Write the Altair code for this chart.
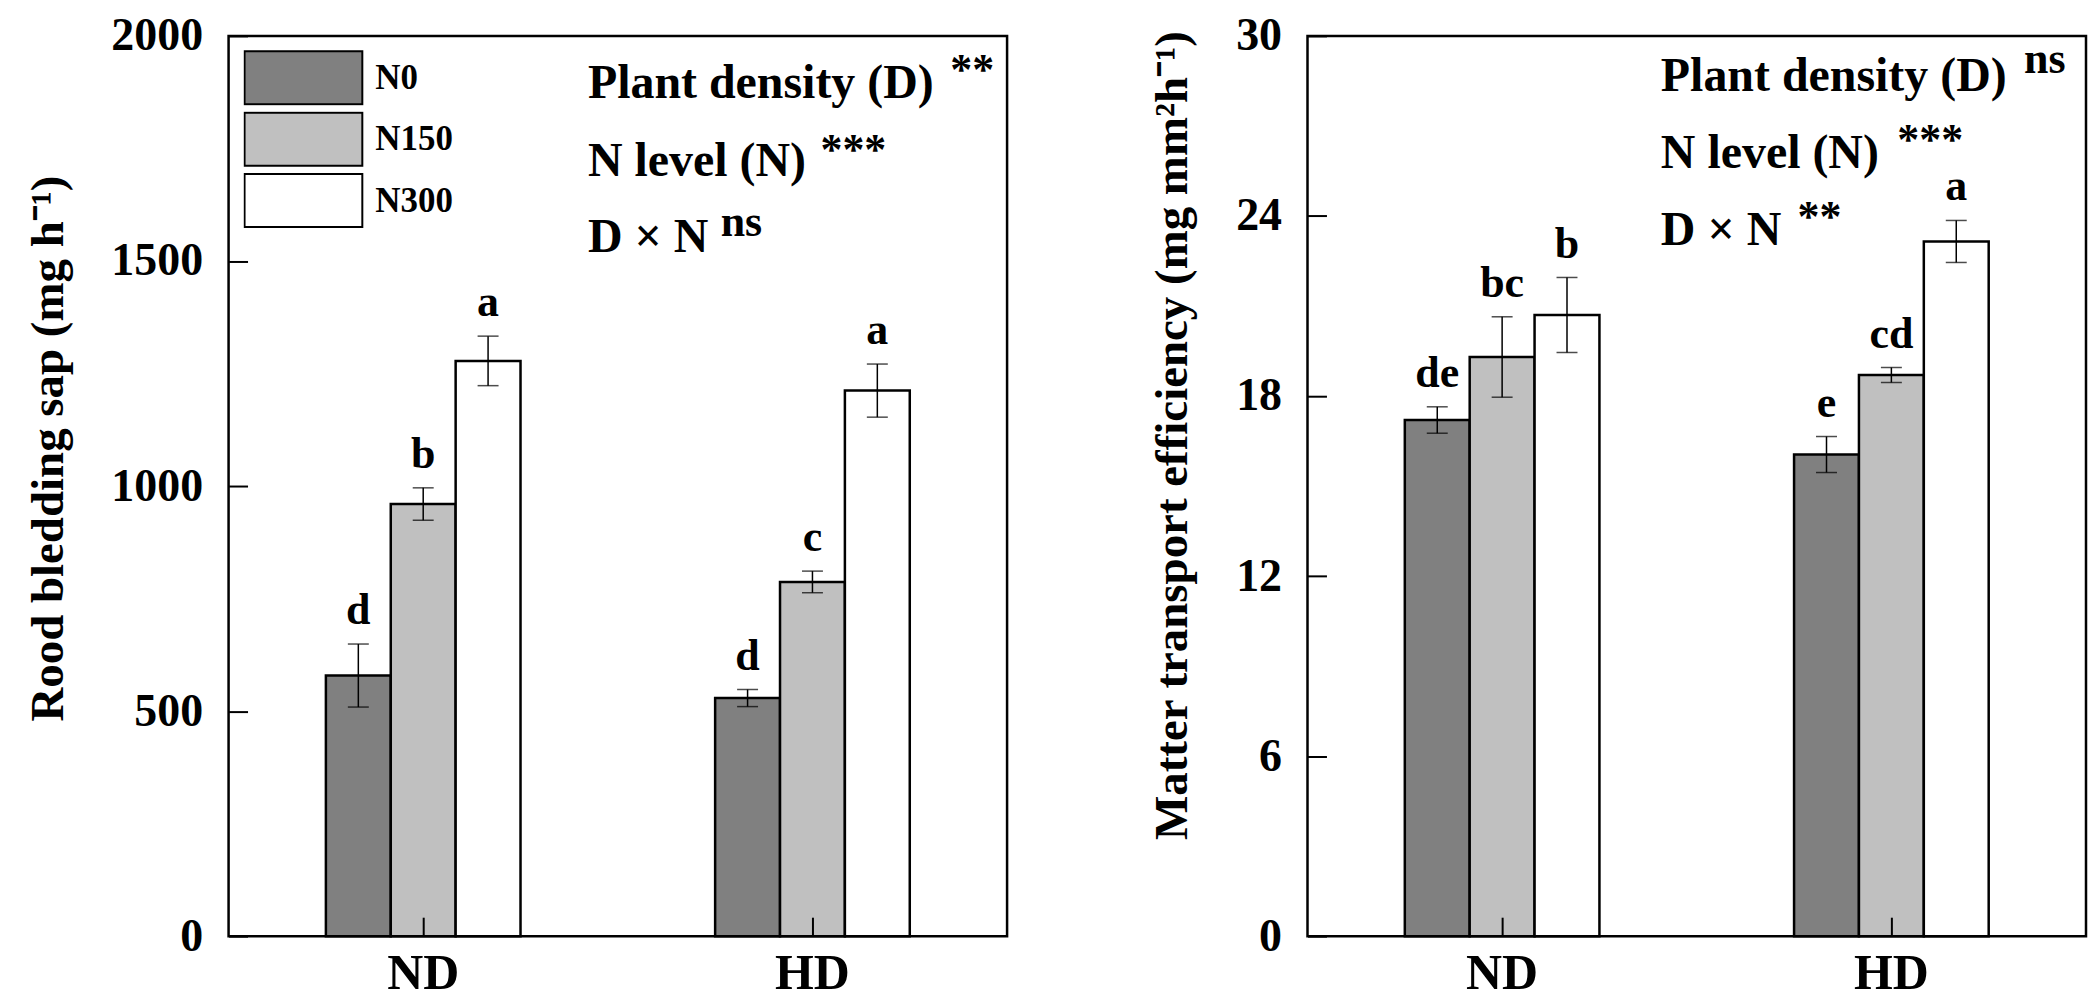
import altair as alt
import pandas as pd

groups = ["ND", "HD"]
levels = ["N0", "N150", "N300"]
fill_colors = ["#808080", "#c0c0c0", "#ffffff"]

sap_values = [579, 960, 1278, 529, 787, 1212]
sap_errors = [70, 36, 55, 19, 24, 59]
sap_letters = ["d", "b", "a", "d", "c", "a"]
sap_ticks = [0, 500, 1000, 1500, 2000]

mte_values = [17.2, 19.3, 20.7, 16.05, 18.7, 23.15]
mte_errors = [0.44, 1.34, 1.25, 0.6, 0.25, 0.7]
mte_letters = ["de", "bc", "b", "e", "cd", "a"]
mte_ticks = [0, 6, 12, 18, 24, 30]

FONT = "Liberation Serif"


def make_df(values, errors, letters):
    rows = []
    i = 0
    for g in groups:
        for lv in levels:
            rows.append({"group": g, "level": lv, "value": values[i],
                         "lo": values[i] - errors[i], "hi": values[i] + errors[i],
                         "letter": letters[i]})
            i += 1
    return pd.DataFrame(rows)


def note(text, x, y, size=48):
    return alt.Chart(pd.DataFrame({"t": [text]})).mark_text(
        font=FONT, fontSize=size, fontWeight="bold", color="black",
        align="left", baseline="alphabetic"
    ).encode(x=alt.value(x), y=alt.value(y), text="t:N")


def panel(df, ymax, ticks, ytitle, title_x, title_y, notes, legend):
    base = alt.Chart(df)
    x = alt.X("group:N", sort=groups,
              scale=alt.Scale(domain=groups, paddingInner=0.5, paddingOuter=0.25),
              axis=alt.Axis(title=None, labelAngle=0, labelFont=FONT, labelFontSize=50,
                            labelFontWeight="bold", labelColor="black", labelPadding=12,
                            domain=False, ticks=True, tickSize=19, offset=-19,
                            tickWidth=2, tickColor="black", zindex=1))
    xo = alt.XOffset("level:N", sort=levels,
                     scale=alt.Scale(domain=levels, paddingInner=0, paddingOuter=0))
    yaxis = alt.Axis(values=ticks, format="d", title=ytitle, titleX=title_x, titleY=title_y,
                     titleFont=FONT, titleFontSize=47, titleFontWeight="bold",
                     titleColor="black", labelFont=FONT, labelFontSize=46,
                     labelFontWeight="bold", labelColor="black", labelPadding=26,
                     domain=False, grid=False, tickSize=19, offset=-19, tickWidth=2,
                     tickColor="black", zindex=1)
    yscale = alt.Scale(domain=[0, ymax], nice=False, zero=True)
    fill = alt.Fill("level:N", sort=levels,
                    scale=alt.Scale(domain=levels, range=fill_colors),
                    legend=legend)
    bars = base.mark_bar(stroke="black", strokeWidth=2.5).encode(
        x=x, xOffset=xo, y=alt.Y("value:Q", scale=yscale, axis=yaxis, title=ytitle),
        fill=fill)
    rule = base.mark_rule(color="black", strokeWidth=1.5).encode(
        x=x, xOffset=xo, y=alt.Y("lo:Q", scale=yscale, title=ytitle), y2="hi:Q")
    cap_hi = base.mark_tick(color="black", size=21, thickness=1.5, orient="horizontal").encode(
        x=x, xOffset=xo, y=alt.Y("hi:Q", scale=yscale, title=ytitle))
    cap_lo = base.mark_tick(color="black", size=21, thickness=1.5, orient="horizontal").encode(
        x=x, xOffset=xo, y=alt.Y("lo:Q", scale=yscale, title=ytitle))
    letters = base.mark_text(font=FONT, fontSize=44, fontWeight="bold", color="black",
                             baseline="alphabetic", dy=-20).encode(
        x=x, xOffset=xo, y=alt.Y("hi:Q", scale=yscale, title=ytitle), text="letter:N")
    layers = [bars, rule, cap_hi, cap_lo, letters] + notes
    return alt.layer(*layers).properties(width=780, height=902)


sap_df = make_df(sap_values, sap_errors, sap_letters)
mte_df = make_df(mte_values, mte_errors, mte_letters)

legend = alt.Legend(orient="none", legendX=15, legendY=14, title=None,
                    symbolType="M-1,-0.45L1,-0.45L1,0.45L-1,0.45Z", symbolSize=13924,
                    symbolStrokeColor="black", symbolStrokeWidth=2, symbolOpacity=1,
                    labelFont=FONT, labelFontSize=35, labelFontWeight="bold",
                    labelColor="black", labelOffset=12, clipHeight=56, rowPadding=5.5,
                    padding=0)

left_notes = [
    note("Plant density (D)", 360, 62),
    note("**", 723, 48, 44),
    note("N level (N)", 360, 140),
    note("***", 593, 128, 44),
    note("D \u00d7 N", 360, 217),
    note("ns", 493, 200, 44),
]
right_notes = [
    note("Plant density (D)", 354, 55),
    note("ns", 718, 37, 44),
    note("N level (N)", 354, 132),
    note("***", 591, 118, 44),
    note("D \u00d7 N", 354, 210),
    note("**", 491, 195, 44),
]

left = panel(sap_df, 2000, sap_ticks, "Rood bledding sap (mg h\u207b\u00b9)", -175, 413,
             left_notes, legend)
right = panel(mte_df, 30, mte_ticks, "Matter transport efficiency (mg mm\u00b2h\u207b\u00b9)",
              -130, 400, right_notes, None)

chart = alt.hconcat(left, right, spacing=138).resolve_scale(
    fill="independent").resolve_legend(fill="independent").properties(
    padding={"left": 15, "top": 2, "right": 0, "bottom": 0}
).configure(background="white").configure_view(stroke="black", strokeWidth=2.5)

chart.save("out.html", embed_options={"renderer": "svg", "actions": False})
